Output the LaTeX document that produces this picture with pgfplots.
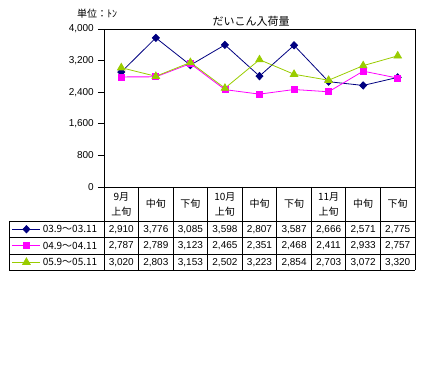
\documentclass[border=0pt]{standalone}
\usepackage{fontspec}
\setmainfont{Liberation Sans}
\newfontfamily\jp{Noto Sans CJK JP}
\usepackage{pgfplots}
\pgfplotsset{compat=1.18}
\definecolor{navyc}{RGB}{0,0,128}
\definecolor{magc}{RGB}{255,0,255}
\definecolor{limec}{RGB}{153,204,0}
\begin{document}
\begin{tikzpicture}
\useasboundingbox (0,0) rectangle (430bp,372bp);
\begin{axis}[
  at={(104bp,185bp)}, anchor=south west,
  scale only axis, width=311bp, height=158bp,
  xmin=0.5, xmax=9.5, ymin=0, ymax=4000,
  xtick=\empty,
  ytick={0,800,1600,2400,3200,4000},
  scaled y ticks=false,
  yticklabel style={font=\fontsize{10bp}{11bp}\selectfont, inner sep=0bp, xshift=-4bp},
  /pgf/number format/assume math mode=true,
  /pgf/number format/1000 sep={,},
  tick align=outside, major tick length=6bp,
  ytick pos=left,
  tick style={black, line width=0.8bp},
  axis line style={black, line width=0.8bp},
  clip=false,
  legend cell align=left,
  legend image code/.code={\draw[mark repeat=2,mark phase=2] plot coordinates {(0bp,0bp) (14bp,0bp) (28bp,0bp)};},
  legend style={at={(axis description cs:-0.2958,-0.2152)}, anchor=north west,
    draw=none, fill=none, inner sep=0pt, outer sep=0pt, row sep=0pt, column sep=2bp,
    font=\jp\fontsize{10bp}{11bp}\selectfont,
    nodes={inner sep=0pt, outer sep=0pt, text height=11.75bp, text depth=4.75bp}},
]
\addplot[navyc, line width=0.8bp, mark=diamond*, mark size=3.6bp, mark options={solid, xscale=1.3}]
  coordinates {(1,2910) (2,3776) (3,3085) (4,3598) (5,2807) (6,3587) (7,2666) (8,2571) (9,2775)};
\addlegendentry{03.9～03.11}
\addplot[magc, line width=0.8bp, mark=square*, mark size=3bp, mark options={solid}]
  coordinates {(1,2787) (2,2789) (3,3123) (4,2465) (5,2351) (6,2468) (7,2411) (8,2933) (9,2757)};
\addlegendentry{04.9～04.11}
\addplot[limec, line width=0.8bp, mark=triangle*, mark size=4.3bp, mark options={solid}]
  coordinates {(1,3020) (2,2803) (3,3153) (4,2502) (5,3223) (6,2854) (7,2703) (8,3072) (9,3320)};
\addlegendentry{05.9～05.11}
\end{axis}
\begin{scope}[x=1bp, y=-1bp, yshift=372bp]
  % titles
  \node[font=\jp\fontsize{11bp}{12bp}\selectfont, inner sep=0pt] at (251,21) {だいこん入荷量};
  \node[font=\jp\fontsize{10bp}{11bp}\selectfont, inner sep=0pt, anchor=west] at (77,14) {単位：ﾄﾝ};
  % table grid
  \begin{scope}[line width=0.8bp, black]
    \foreach \k in {0,...,9} {
      \draw ({104+\k*34.556},187) -- ({104+\k*34.556},270);
    }
    \draw (9,221) -- (9,270);
    \foreach \yy in {221,237.5,254,270} {
      \draw (9,\yy) -- (415,\yy);
    }
  \end{scope}
  % header
  \begin{scope}[font=\jp\fontsize{10bp}{11bp}\selectfont, inner sep=0pt]
    \foreach \k/\m in {1/9月,4/10月,7/11月} {
      \node at ({104+(\k-0.5)*34.556},197) {\m};
      \node at ({104+(\k-0.5)*34.556},211.5) {上旬};
    }
    \foreach \k/\t in {2/中旬,3/下旬,5/中旬,6/下旬,8/中旬,9/下旬} {
      \node at ({104+(\k-0.5)*34.556},204) {\t};
    }
  \end{scope}
  % values
  \begin{scope}[font=\fontsize{10bp}{11bp}\selectfont, inner sep=0pt]
    \foreach \k/\v in {1/{2,910},2/{3,776},3/{3,085},4/{3,598},5/{2,807},6/{3,587},7/{2,666},8/{2,571},9/{2,775}} {
      \node at ({104+(\k-0.5)*34.556},229.5) {\v};
    }
    \foreach \k/\v in {1/{2,787},2/{2,789},3/{3,123},4/{2,465},5/{2,351},6/{2,468},7/{2,411},8/{2,933},9/{2,757}} {
      \node at ({104+(\k-0.5)*34.556},246) {\v};
    }
    \foreach \k/\v in {1/{3,020},2/{2,803},3/{3,153},4/{2,502},5/{3,223},6/{2,854},7/{2,703},8/{3,072},9/{3,320}} {
      \node at ({104+(\k-0.5)*34.556},262.5) {\v};
    }
  \end{scope}
\end{scope}
\end{tikzpicture}
\end{document}
